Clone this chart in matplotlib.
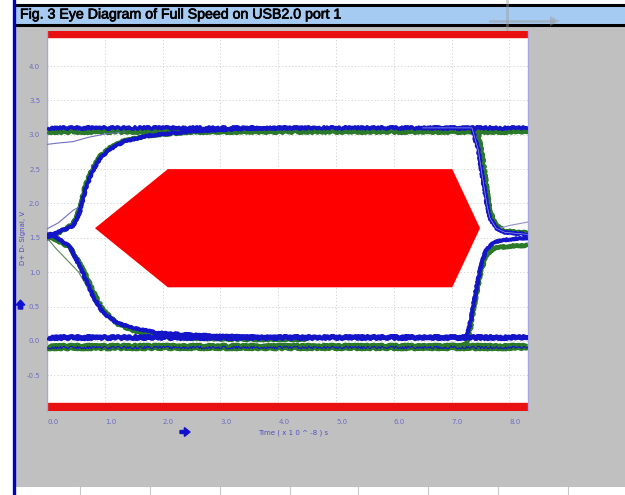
import matplotlib
matplotlib.use("Agg")
import matplotlib.pyplot as plt
import matplotlib.patheffects as pe
from matplotlib.patches import Rectangle, Polygon, FancyArrow
from matplotlib.lines import Line2D

W, H = 625, 495

# ---------------- data ----------------
x_ticks = [0, 1, 2, 3, 4, 5, 6, 7, 8]
x_tick_labels = ["0.0", "1.0", "2.0", "3.0", "4.0", "5.0", "6.0", "7.0", "8.0"]
y_ticks = [-0.5, 0.0, 0.5, 1.0, 1.5, 2.0, 2.5, 3.0, 3.5, 4.0]
y_tick_labels = ["-0.5", "0.0", "0.5", "1.0", "1.5", "2.0", "2.5", "3.0", "3.5", "4.0"]

# eye mask (hexagon)
mask_t = [0.83, 2.09, 7.01, 7.49, 7.01, 2.09]
mask_v = [1.64, 2.50, 2.50, 1.64, 0.78, 0.78]
# top / bottom mask limits
mask_top = [4.42, 4.51]
mask_bottom = [-1.02, -0.90]

# steady levels
level_t = [0.0, 8.32]
high_blue = [3.10, 3.10]
high_green = [3.06, 3.06]
low_blue = [0.05, 0.05]
low_green = [-0.09, -0.09]

# left rising edge
rise_l_t = [0.0, 0.26, 0.45, 0.57, 0.66, 0.78, 0.92, 1.09, 1.35, 1.78, 2.47, 3.5, 4.5]
rise_l_blue = [1.51, 1.61, 1.67, 1.88, 2.19, 2.46, 2.66, 2.79, 2.91, 2.99, 3.05, 3.09, 3.10]
rise_l_green = [1.49, 1.60, 1.70, 1.93, 2.25, 2.50, 2.69, 2.81, 2.92, 2.99, 3.04, 3.06, 3.06]

# left falling edge
fall_l_t = [0.0, 0.05, 0.40, 0.62, 0.80, 0.97, 1.21, 1.49, 1.90, 2.47, 3.5, 4.5]
fall_l_blue = [1.55, 1.57, 1.37, 0.99, 0.64, 0.41, 0.26, 0.19, 0.12, 0.09, 0.06, 0.05]
fall_l_green = [1.50, 1.52, 1.36, 1.05, 0.72, 0.45, 0.25, 0.15, 0.08, 0.04, 0.02, 0.02]

# right falling edge
fall_r_t = [6.5, 7.35, 7.46, 7.54, 7.61, 7.66, 7.77, 7.92, 8.32]
fall_r_blue = [3.10, 3.10, 2.78, 2.34, 1.98, 1.79, 1.64, 1.58, 1.55]
fall_r_green = [3.06, 3.06, 3.02, 2.65, 2.20, 1.90, 1.68, 1.60, 1.57]

# right rising edge
rise_r_t = [6.5, 7.26, 7.33, 7.42, 7.51, 7.59, 7.73, 8.01, 8.32]
rise_r_blue = [0.05, 0.06, 0.30, 0.74, 1.10, 1.32, 1.44, 1.48, 1.50]
rise_r_green = [-0.08, -0.06, 0.22, 0.66, 1.02, 1.24, 1.35, 1.38, 1.39]

# thin single traces
thin1_t = [0.0, 0.2, 0.45, 0.7, 1.0, 1.4]
thin1_v = [2.86, 2.88, 2.90, 2.96, 3.01, 3.05]
thin2_t = [0.0, 0.2, 0.45, 0.62]
thin2_v = [1.63, 1.72, 1.90, 1.98]
thin3_t = [0.0, 0.15, 0.40, 0.55, 0.80, 1.0]
thin3_v = [1.50, 1.35, 1.13, 1.00, 0.62, 0.40]
thin4_t = [7.75, 8.0, 8.32]
thin4_v = [1.62, 1.68, 1.73]

# ---------------- figure ----------------
fig = plt.figure(figsize=(W / 100, H / 100), dpi=100)
fig.patch.set_facecolor("white")


def fx(px):
    return px / W


def fy(py):
    return 1 - py / H


def frect(x0, y0, x1, y1, **kw):
    fig.patches.append(Rectangle((fx(x0), fy(y1)), fx(x1) - fx(x0), fy(y0) - fy(y1),
                                 transform=fig.transFigure, figure=fig, **kw))


# gray background panel
frect(16, 26, 625, 487, facecolor="#c0c0c0", edgecolor="none", zorder=-5)
# bottom spreadsheet cell lines
for px in [80, 150, 220, 290, 358, 428, 498, 568]:
    fig.lines.append(Line2D([fx(px), fx(px)], [fy(487), fy(495)], transform=fig.transFigure,
                            color="#c8c8c8", lw=0.8, zorder=-4))
# title bar
frect(16, 4, 625, 25, facecolor="#a6cbf2", edgecolor="none", zorder=-4)
for py in [4.5, 24.5]:
    fig.lines.append(Line2D([fx(16), 1], [fy(py), fy(py)], transform=fig.transFigure,
                            color="black", lw=2.2, zorder=-3))
# faint ghost shape in title bar
for xs, ys in [([507, 507], [0, 30]), ([490, 553], [21, 21])]:
    fig.lines.append(Line2D([fx(v) for v in xs], [fy(v) for v in ys], transform=fig.transFigure,
                            color="#9a9a9a", lw=2.0, alpha=0.45, zorder=-3))
fig.patches.append(Polygon([(fx(550), fy(16)), (fx(560), fy(21)), (fx(550), fy(26))],
                           closed=True, transform=fig.transFigure, figure=fig,
                           facecolor="#9a9a9a", edgecolor="none", alpha=0.45, zorder=-3))
# left blue bar
fig.lines.append(Line2D([fx(14.5), fx(14.5)], [0, 1], transform=fig.transFigure,
                        color="#0000c8", lw=2.4, zorder=-2))

fig.text(fx(20), fy(14.5), "Fig. 3 Eye Diagram of Full Speed on USB2.0 port 1",
         family="Liberation Sans", fontsize=10.2, color="black", va="center", ha="left",
         zorder=4, path_effects=[pe.withStroke(linewidth=0.5, foreground="black")])

# ---------------- axes ----------------
ax = fig.add_axes([fx(47), fy(411), fx(528) - fx(47), fy(31) - fy(411)])
ax.set_zorder(5)
ax.set_facecolor("white")
ax.set_xlim(0, 8.32)
ax.set_ylim(-1.02, 4.51)

ax.set_xticks(x_ticks)
ax.set_xticklabels(x_tick_labels, ha="left")
ax.set_yticks(y_ticks)
ax.set_yticklabels(y_tick_labels)
ax.tick_params(axis="both", length=0, labelsize=5, labelcolor="#6c6cc4")
ax.tick_params(axis="x", pad=6)
ax.tick_params(axis="y", pad=5)
ax.grid(True, color="#d2d2d2", lw=0.7, ls=(0, (1.2, 2.2)))
ax.set_axisbelow(True)
for side in ["top", "bottom"]:
    ax.spines[side].set_visible(False)
for side in ["left", "right"]:
    ax.spines[side].set_color("#a8a8d8")
    ax.spines[side].set_linewidth(1.0)

# masks
ax.add_patch(Polygon(list(zip(mask_t, mask_v)), closed=True, facecolor="#ff0000",
                     edgecolor="none", zorder=2))
ax.axhspan(mask_top[0], mask_top[1], color="#e81010", zorder=2)
ax.axhspan(mask_bottom[0], mask_bottom[1], color="#e81010", zorder=2)

blue = "#1414c8"
green = "#2a7a2a"


def band(t, v, color, lw, z, sketch=(1.2, 2.5, 4)):
    ln, = ax.plot(t, v, color=color, lw=lw, solid_capstyle="butt", zorder=z)
    ln.set_sketch_params(*sketch)
    return ln


# steady levels
band(level_t, high_green, green, 3.4, 3)
band(level_t, high_blue, blue, 2.6, 4)
band(level_t, high_green, green, 1.0, 4)
band(level_t, low_green, green, 4.6, 3)
band(level_t, low_blue, blue, 3.4, 4)
band(level_t, low_green, blue, 0.8, 4)

# edges
for t, vb, vg in [(rise_l_t, rise_l_blue, rise_l_green),
                  (fall_l_t, fall_l_blue, fall_l_green),
                  (fall_r_t, fall_r_blue, fall_r_green),
                  (rise_r_t, rise_r_blue, rise_r_green)]:
    band(t, vg, green, 3.2, 3, sketch=(0.8, 2.5, 4))
    band(t, vb, blue, 2.8, 4, sketch=(0.7, 2.5, 4))

ax.plot(fall_r_t, fall_r_blue, color="#9a9ae6", lw=0.5, zorder=5)

# thin traces
ax.plot(thin1_t, thin1_v, color="#7070c0", lw=0.8, zorder=3)
ax.plot(thin2_t, thin2_v, color="#7070c0", lw=0.8, zorder=3)
ax.plot(thin3_t, thin3_v, color="#5a8a5a", lw=0.8, zorder=3)
ax.plot(thin4_t, thin4_v, color="#9090c8", lw=0.8, zorder=3)

# axis labels and arrows
fig.text(fx(23), fy(238), "D+ D- Signal, V", rotation=90, fontsize=5, color="#5050c0",
         ha="center", va="center")
fig.text(fx(258), fy(433), "Time ( x 1 0 ^ -8 ) s", fontsize=5, color="#5050c0",
         ha="left", va="center")
fig.patches.append(FancyArrow(fx(180), fy(432), fx(10), 0, width=0.006, head_width=0.018,
                              head_length=0.009, length_includes_head=True,
                              transform=fig.transFigure, color="#1010d0", figure=fig))
fig.patches.append(FancyArrow(fx(20.5), fy(309), 0, 0.018, width=0.007, head_width=0.014,
                              head_length=0.01, length_includes_head=True,
                              transform=fig.transFigure, color="#1010d0", figure=fig))

fig.savefig("out.png", dpi=100)
